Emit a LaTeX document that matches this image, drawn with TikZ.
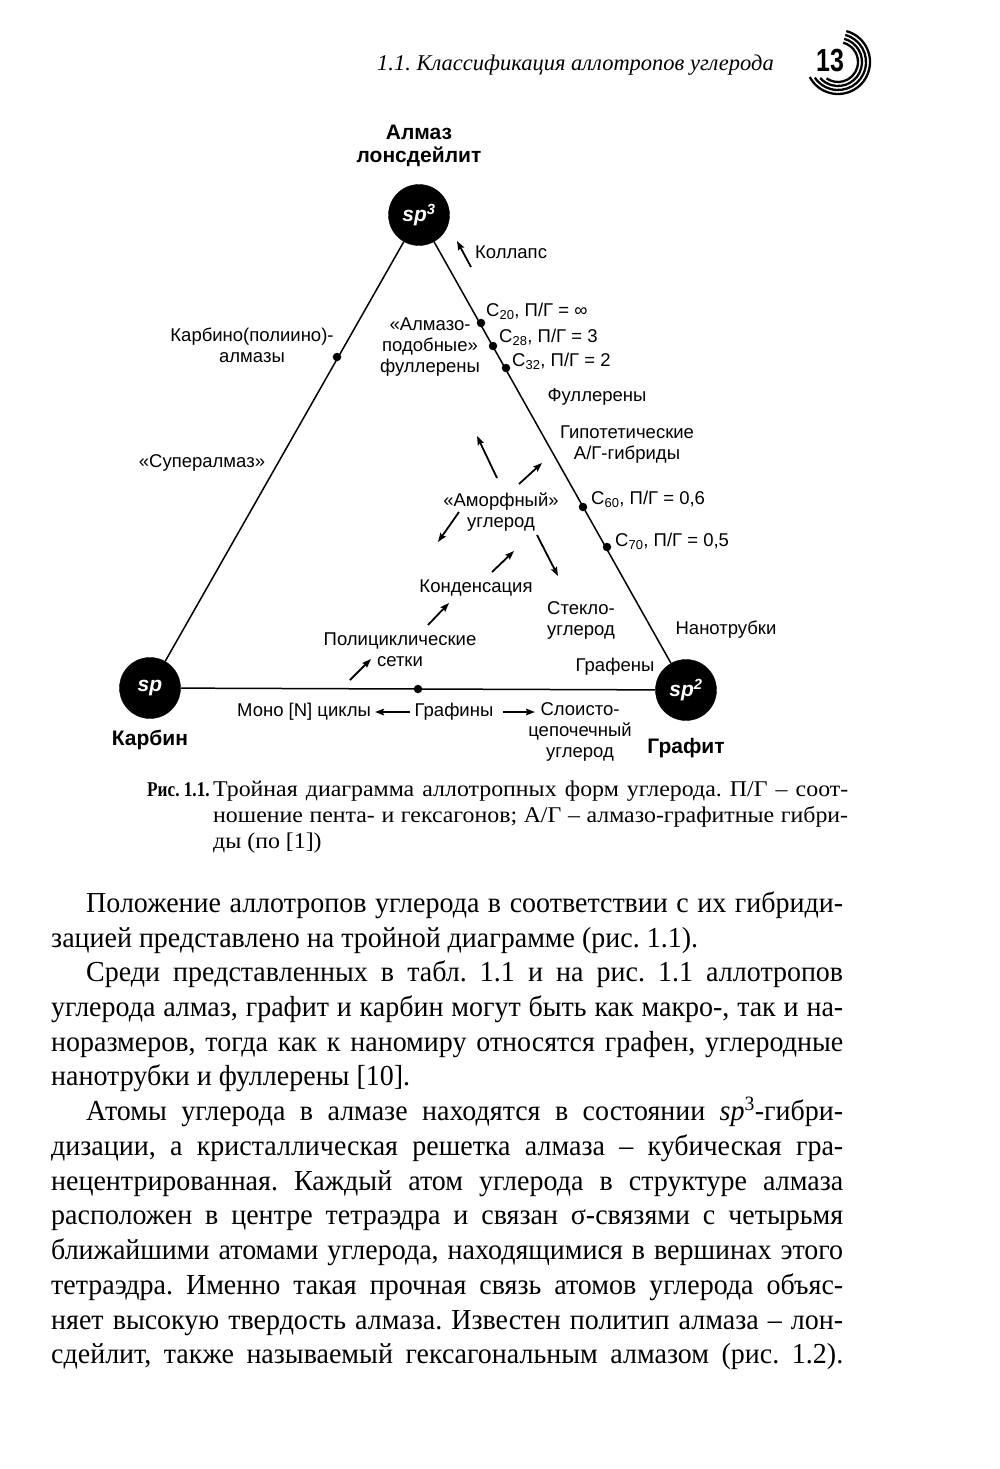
\documentclass[tikz,border=0pt]{standalone}
\usepackage{fontspec}
\setmainfont{Liberation Serif}
\setsansfont{Liberation Sans}
\newfontfamily\numfont[FakeStretch=0.78]{Liberation Sans}
\newfontfamily\bodyfont[FakeStretch=0.965]{Liberation Serif}
\newfontfamily\capfont[FakeStretch=1.06]{Liberation Serif}
\newfontfamily\risfont[FakeStretch=0.82]{Liberation Serif}
\usetikzlibrary{arrows.meta}
\frenchspacing

\tikzset{
  >={Stealth[length=9pt, width=6.5pt, inset=1.5pt]},
  lbl/.style={font=\sffamily\fontsize{18.5}{21}\selectfont, inner sep=0pt, align=center},
  formname/.style={font=\sffamily\bfseries\fontsize{21}{23}\selectfont, inner sep=0pt, align=center},
  hyb/.style={draw, circle, fill=black, minimum size=61pt, inner sep=0pt, text=white,
    font=\sffamily\bfseries\itshape\fontsize{21}{24}\selectfont},
  dot/.style={circle, fill=black, minimum size=8.5pt, inner sep=0pt},
  side/.style={line width=1.5pt},
  arr/.style={->, line width=1.8pt},
  bodyline/.style={anchor=base west, inner sep=0pt, font=\bodyfont\fontsize{29}{35}\selectfont},
  capline/.style={anchor=base west, inner sep=0pt, font=\capfont\fontsize{22.5}{26}\selectfont},
}

\begin{document}
\begin{tikzpicture}[x=1pt, y=-1pt]
    \useasboundingbox (0,0) rectangle (1000,1469);
    \fill[white] (0,0) rectangle (1000,1469);

    % running head
    \node[inner sep=0pt, anchor=base east, font=\itshape\fontsize{22.5}{26}\selectfont] (head) at (774,71)
        {1.1. Классификация аллотропов углерода};
    \node[inner sep=0pt, font=\numfont\bfseries\fontsize{32}{32}\selectfont] (pagenum) at (830,61) {13};
    \coordinate (emb) at (838,62);
    \foreach \r/\e in {20/-125, 24/-138, 28/-146, 32/-152}
        \draw[line width=2.3pt] (emb) ++(75:\r pt) arc[start angle=75, end angle=\e, radius=\r pt];

    % corners of the triangle
    \node[hyb] (sp3) at (419,215) {sp\textsuperscript{3}};
    \node[hyb] (sp) at (150,688) {sp};
    \node[hyb] (sp2) at (686,690) {sp\textsuperscript{2}};
    \node[formname] (almaz) at (419,146) {Алмаз\\лонсдейлит};
    \node[formname] (karbin) at (150,740) {Карбин};
    \node[formname] (grafit) at (686,748) {Графит};

    \draw[side] (sp3) -- (sp);
    \draw[side] (sp3) -- (sp2);
    \draw[side] (sp) -- (sp2);

    % points on the sides
    \node[dot] (cpol) at (337,357) {};
    \node[dot] (c20) at (481,323) {};
    \node[dot] (c28) at (493,346) {};
    \node[dot] (c32) at (506,368) {};
    \node[dot] (c60) at (583,507) {};
    \node[dot] (c70) at (607,547) {};
    \node[dot] (cgraf) at (418,689) {};

    % labels
    \node[lbl, anchor=west] (kollaps) at (475,252) {Коллапс};
    \node[lbl, anchor=west] (l20) at (486,311) {C\textsubscript{20}, П/Г = ∞};
    \node[lbl, anchor=west] (l28) at (499,337) {C\textsubscript{28}, П/Г = 3};
    \node[lbl, anchor=west] (l32) at (512,361) {C\textsubscript{32}, П/Г = 2};
    \node[lbl, anchor=west] (l60) at (591,499) {C\textsubscript{60}, П/Г = 0,6};
    \node[lbl, anchor=west] (l70) at (615,541) {C\textsubscript{70}, П/Г = 0,5};
    \node[lbl] (almful) at (430,347) {«Алмазо-\\подобные»\\фуллерены};
    \node[lbl] (karbalm) at (252,345) {Карбино(полиино)-\\алмазы};
    \node[lbl] (super) at (202,463) {«Супералмаз»};
    \node[lbl] (fuller) at (597,397) {Фуллерены};
    \node[lbl] (gipot) at (627,445) {Гипотетические\\А/Г-гибриды};
    \node[lbl] (amorf) at (501,512) {«Аморфный»\\углерод};
    \node[lbl] (konden) at (476,588) {Конденсация};
    \node[lbl] (steklo) at (581,620) {Стекло-\\углерод};
    \node[lbl] (nanotr) at (726,630) {Нанотрубки};
    \node[lbl] (polic) at (400,650) {Полициклические\\сетки};
    \node[lbl] (grafeny) at (615,667) {Графены};
    \node[lbl] (mono) at (304,712) {Моно [N] циклы};
    \node[lbl] (grafiny) at (454,712) {Графины};
    \node[lbl] (sloisto) at (580,732) {Слоисто-\\цепочечный\\углерод};

    % arrows
    \coordinate (k1) at (471,267);  \coordinate (k2) at (457,241);
    \coordinate (a1) at (497,478);  \coordinate (a2) at (477,436);
    \coordinate (b1) at (519,484);  \coordinate (b2) at (542,463);
    \coordinate (d1) at (459,512);  \coordinate (d2) at (438,542);
    \coordinate (e1) at (492,572);  \coordinate (e2) at (514,551);
    \coordinate (f1) at (537,535);  \coordinate (f2) at (558,576);
    \coordinate (g1) at (428,625);  \coordinate (g2) at (449,603);
    \coordinate (h1) at (350,680);  \coordinate (h2) at (371,659);
    \coordinate (slend) at (535,712);
    \draw[arr] (k1) -- (k2);
    \draw[arr] (a1) -- (a2);
    \draw[arr] (b1) -- (b2);
    \draw[arr] (d1) -- (d2);
    \draw[arr] (e1) -- (e2);
    \draw[arr] (f1) -- (f2);
    \draw[arr] (g1) -- (g2);
    \draw[arr] (h1) -- (h2);
    \draw[arr, shorten <=4pt, shorten >=4pt] (grafiny) -- (mono);
    \draw[arr, shorten <=9pt] (grafiny.east) -- (slend);

    % caption
    \node[capline, font=\risfont\bfseries\fontsize{21}{26}\selectfont] (ris) at (147,796) {Рис. 1.1.};
    \node[capline] (cap1) at (213,796) {\makebox[635pt][s]{Тройная диаграмма аллотропных форм углерода. П/Г – соот-}};
    \node[capline] (cap2) at (213,822) {\makebox[635pt][s]{ношение пента- и гексагонов; А/Г – алмазо-графитные гибри-}};
    \node[capline] (cap3) at (213,848) {ды (по [1])};

    % body text
    \node[bodyline] (t1) at (86,912) {\makebox[757pt][s]{Положение аллотропов углерода в соответствии с их гибриди-}};
    \node[bodyline] (t2) at (51,947) {зацией представлено на тройной диаграмме (рис. 1.1).};
    \node[bodyline] (t3) at (86,981) {\makebox[757pt][s]{Среди представленных в табл. 1.1 и на рис. 1.1 аллотропов}};
    \node[bodyline] (t4) at (51,1016) {\makebox[792pt][s]{углерода алмаз, графит и карбин могут быть как макро-, так и на-}};
    \node[bodyline] (t5) at (51,1051) {\makebox[792pt][s]{норазмеров, тогда как к наномиру относятся графен, углеродные}};
    \node[bodyline] (t6) at (51,1085) {нанотрубки и фуллерены [10].};
    \node[bodyline] (t7) at (86,1120) {\makebox[757pt][s]{Атомы углерода в алмазе находятся в состоянии \textit{sp}\textsuperscript{3}-гибри-}};
    \node[bodyline] (t8) at (51,1155) {\makebox[792pt][s]{дизации, а кристаллическая решетка алмаза – кубическая гра-}};
    \node[bodyline] (t9) at (51,1190) {\makebox[792pt][s]{нецентрированная. Каждый атом углерода в структуре алмаза}};
    \node[bodyline] (t10) at (51,1224) {\makebox[792pt][s]{расположен в центре тетраэдра и связан σ-связями с четырьмя}};
    \node[bodyline] (t11) at (51,1259) {\makebox[792pt][s]{ближайшими атомами углерода, находящимися в вершинах этого}};
    \node[bodyline] (t12) at (51,1294) {\makebox[792pt][s]{тетраэдра. Именно такая прочная связь атомов углерода объяс-}};
    \node[bodyline] (t13) at (51,1329) {\makebox[792pt][s]{няет высокую твердость алмаза. Известен политип алмаза – лон-}};
    \node[bodyline] (t14) at (51,1363) {\makebox[792pt][s]{сдейлит, также называемый гексагональным алмазом (рис. 1.2).}};
\end{tikzpicture}
\end{document}
